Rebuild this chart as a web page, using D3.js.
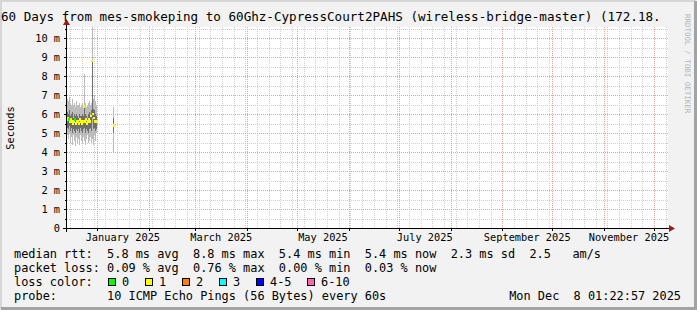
<!DOCTYPE html>
<html>
<head>
<meta charset="utf-8">
<script src="https://cdn.jsdelivr.net/npm/d3@7"></script>
<style>
  body { margin: 0; background: #f2f2f2; }
  text { font-family: "DejaVu Sans Mono", monospace; white-space: pre; }
</style>
</head>
<body>
<svg id="chart" width="697" height="310"></svg>
<script>
/**
 * smokeping style rtt graph, drawn with d3.
 */

// chart texts
var titleText = "60 Days from mes-smokeping to 60Ghz-CypressCourt2PAHS (wireless-bridge-master) (172.18.";
var yAxisTitle = "Seconds";
var watermark = "RRDTOOL / TOBI OETIKER";

// samples: one column every 14.4 hours from sampleStart
var sampleStart = "2024-12-14T00:00:00Z";
var sampleHours = 14.4;
var sampleIndex = [0, 1, 2, 3, 4, 5, 6, 7, 8, 9, 10, 11, 12, 13, 14, 15, 16, 17, 18, 19,
                   20, 21, 22, 23, 24, 25, 26, 27, 28, 29, 46];

// rtt values in ms
var rttMax    = [6.8, 6.7, 6.9, 6.6, 6.5, 6.8, 6.5, 6.6, 6.4, 6.7, 6.5, 6.5, 6.6, 6.4, 6.5, 6.6,
                 6.5, 8.1, 6.6, 6.4, 6.5, 6.6, 6.7, 6.5, 6.6, 10.6, 6.8, 7.0, 6.7, 6.5, 6.4];
var rttHigh   = [6.1, 6.0, 6.2, 5.9, 6.0, 6.1, 5.8, 6.0, 5.9, 6.0, 5.9, 5.8, 6.0, 5.9, 5.9, 6.0,
                 5.9, 6.5, 6.0, 5.9, 5.8, 6.0, 6.1, 5.9, 6.2, 8.8, 6.3, 6.2, 6.0, 5.9, 5.8];
var rttLow    = [5.3, 5.2, 5.4, 5.1, 5.3, 5.0, 5.2, 5.1, 5.0, 5.2, 5.1, 5.2, 5.0, 5.3, 5.1, 5.0,
                 5.2, 5.3, 5.0, 5.2, 5.1, 5.0, 5.2, 5.3, 5.1, 5.8, 5.2, 5.3, 5.1, 5.2, 5.0];
var rttMin    = [4.9, 4.7, 5.0, 4.5, 4.8, 4.4, 4.9, 4.6, 4.3, 4.8, 4.5, 4.7, 4.4, 4.9, 4.6, 4.5,
                 4.8, 4.6, 4.4, 4.7, 4.9, 4.5, 4.6, 4.8, 4.5, 4.7, 4.4, 4.9, 4.6, 5.0, 4.0];
var rttMedian = [5.7, 5.8, 5.7, 5.6, 5.7, 5.6, 5.5, 5.6, 5.7, 5.5, 5.6, 5.6, 5.5, 5.7, 5.6, 5.5,
                 5.6, 6.4, 5.6, 5.7, 5.5, 5.6, 5.7, 5.6, 5.9, 8.8, 6.0, 5.8, 5.6, 5.6, 5.4];
var lossCount = [1, 1, 0, 1, 1, 1, 1, 1, 0, 1, 1, 1, 1, 1, 1, 1,
                 1, 1, 1, 1, 1, 1, 1, 1, 1, 1, 1, 1, 1, 1, 1];

// y ticks (ms)
var yTicks = [0, 1, 2, 3, 4, 5, 6, 7, 8, 9, 10];
var yMinorTicks = [0.5, 1.5, 2.5, 3.5, 4.5, 5.5, 6.5, 7.5, 8.5, 9.5, 10.5];

// legend
var lossLabels = ["0", "1", "2", "3", "4-5", "6-10"];
var lossColors = ["#00ff00", "#ffff00", "#ff8000", "#00ffff", "#0000ff", "#ff66b2"];
var legendRows = [
  "median rtt:  5.8 ms avg  8.8 ms max  5.4 ms min  5.4 ms now  2.3 ms sd  2.5   am/s",
  "packet loss: 0.09 % avg  0.76 % max  0.00 % min  0.03 % now",
  "loss color:",
  "probe:       10 ICMP Echo Pings (56 Bytes) every 60s"
];
var stampText = "Mon Dec  8 01:22:57 2025";

var W = 697, H = 310;
var svg = d3.select('#chart');

// frame
svg.append('rect').attr('width', W).attr('height', H).attr('fill', '#f2f2f2');
svg.append('path').attr('d', 'M1,' + (H - 1) + 'V1H' + (W - 1))
   .attr('stroke', '#d6d6d6').attr('stroke-width', 2).attr('fill', 'none');
svg.append('path').attr('d', 'M1,' + (H - 1.5) + 'H' + (W - 1.5) + 'V1')
   .attr('stroke', '#a3a3a3').attr('stroke-width', 3).attr('fill', 'none');

// plot area (note: "top" is taken by window.top, so use plot* names)
var plotL = 66.5, plotR = 668, plotT = 27, plotB = 228;

// x scale anchored on month starts
var x = d3.scaleUtc()
    .domain([new Date("2025-01-01T00:00:00Z"), new Date("2025-12-01T00:00:00Z")])
    .range([97, 654]);
var tStart = x.invert(plotL), tEnd = x.invert(plotR);

var y = d3.scaleLinear().domain([0, 10.6]).range([plotB, plotT]);

svg.append('rect').attr('x', plotL).attr('y', plotT)
   .attr('width', plotR - plotL).attr('height', plotB - plotT).attr('fill', '#ffffff');

// grid
var grid = svg.append('g').attr('shape-rendering', 'crispEdges');
var weeks = d3.utcMonday.range(tStart, tEnd);
var months = d3.utcMonth.range(tStart, tEnd);

function vline(t, color) {
  var px = Math.round(x(t)) + 0.5;
  grid.append('line').attr('x1', px).attr('x2', px).attr('y1', plotT).attr('y2', plotB)
      .attr('stroke', color).attr('stroke-dasharray', '1,1');
}
function hline(v, color) {
  var py = Math.round(y(v)) + 0.5;
  grid.append('line').attr('x1', plotL).attr('x2', plotR).attr('y1', py).attr('y2', py)
      .attr('stroke', color).attr('stroke-dasharray', '1,1');
}
weeks.forEach(function(t) { vline(t, '#cfcfcf'); });
yMinorTicks.forEach(function(v) { hline(v, '#cfcfcf'); });
months.forEach(function(t) { vline(t, '#eea0a0'); });
yTicks.slice(1).forEach(function(v) { hline(v, '#eea0a0'); });

// samples
var samples = sampleIndex.map(function(k, i) {
  var t0 = new Date(new Date(sampleStart).getTime() + k * sampleHours * 3600e3);
  var t1 = new Date(t0.getTime() + sampleHours * 3600e3);
  return { t0: t0, t1: t1, max: rttMax[i], high: rttHigh[i], low: rttLow[i],
           min: rttMin[i], median: rttMedian[i], loss: lossCount[i] };
});

var smoke = svg.append('g').attr('shape-rendering', 'crispEdges');
// draw a smoke band between two value keys
function band(lo, hi, color) {
  smoke.selectAll(null).data(samples).enter().append('rect')
      .attr('x', function(d) { return x(d.t0); })
      .attr('width', function(d) { return Math.max(1, x(d.t1) - x(d.t0)); })
      .attr('y', function(d) { return y(d[hi]); })
      .attr('height', function(d) { return y(d[lo]) - y(d[hi]); })
      .attr('fill', color);
}
band('min', 'max', '#bcbcbc');
band('low', 'high', '#6e6e6e');

// median, colored by loss
function lossColor(n) {
  if (n <= 3) return lossColors[n];
  if (n <= 5) return lossColors[4];
  return lossColors[5];
}
smoke.selectAll(null).data(samples).enter().append('rect')
    .attr('x', function(d) { return x(d.t0) - 0.5; })
    .attr('width', function(d) { return Math.max(1, x(d.t1) - x(d.t0)) + 1; })
    .attr('y', function(d) { return y(d.median) - 1.5; })
    .attr('height', 2.5)
    .attr('fill', function(d) { return lossColor(d.loss); });

// axes
var axes = svg.append('g').attr('shape-rendering', 'crispEdges');
axes.append('line').attr('x1', plotL - 4).attr('x2', plotR + 2).attr('y1', plotB + 0.5).attr('y2', plotB + 0.5)
    .attr('stroke', '#000');
axes.append('line').attr('x1', plotL).attr('x2', plotL).attr('y1', plotB + 4).attr('y2', plotT - 2)
    .attr('stroke', '#000');
yTicks.forEach(function(v) {
  var py = Math.round(y(v)) + 0.5;
  axes.append('line').attr('x1', plotL - 3).attr('x2', plotL).attr('y1', py).attr('y2', py).attr('stroke', '#000');
});
yMinorTicks.forEach(function(v) {
  var py = Math.round(y(v)) + 0.5;
  axes.append('line').attr('x1', plotL - 2).attr('x2', plotL).attr('y1', py).attr('y2', py).attr('stroke', '#000');
});
months.forEach(function(t) {
  var px = Math.round(x(t)) + 0.5;
  axes.append('line').attr('x1', px).attr('x2', px).attr('y1', plotB).attr('y2', plotB + 3).attr('stroke', '#000');
});
// arrows
svg.append('path').attr('d', 'M' + (plotR + 1) + ',' + (plotB - 3) + 'L' + (plotR + 7) + ',' + (plotB + 0.5) +
                        'L' + (plotR + 1) + ',' + (plotB + 4) + 'Z').attr('fill', '#9b1c1c');
svg.append('path').attr('d', 'M' + (plotL - 3.5) + ',' + (plotT - 2) + 'L' + plotL + ',' + (plotT - 8) +
                        'L' + (plotL + 3.5) + ',' + (plotT - 2) + 'Z').attr('fill', '#9b1c1c');

// y labels
svg.selectAll(null).data(yTicks).enter().append('text')
    .attr('x', 60).attr('y', function(v) { return y(v) + 3.5; })
    .attr('text-anchor', 'end').attr('font-size', '10.3px').attr('fill', '#000')
    .text(function(v) { return v === 0 ? "0" : v + " m"; });

// x labels centered on every second month
var labelMonths = d3.utcMonth.every(2).range(new Date("2025-01-01T00:00:00Z"), tEnd);
svg.selectAll(null).data(labelMonths).enter().append('text')
    .attr('x', function(t) { return (x(t) + x(d3.utcMonth.offset(t, 1))) / 2; })
    .attr('y', 241).attr('text-anchor', 'middle').attr('font-size', '10.3px')
    .text(function(t) { return d3.utcFormat("%B %Y")(t); });

// y axis title
svg.append('text').attr('transform', 'translate(14,128) rotate(-90)')
    .attr('text-anchor', 'middle').attr('font-size', '10.3px').text(yAxisTitle);

// title
svg.append('text').attr('x', 1).attr('y', 21).attr('font-size', '12.6px').text(titleText);

// watermark
svg.append('text').attr('transform', 'translate(685,14) rotate(90)')
    .attr('font-size', '7.5px').attr('fill', '#b4b4b4').text(watermark);

// legend
var rowY = [258, 272, 286, 300];
legendRows.forEach(function(s, i) {
  svg.append('text').attr('x', 14).attr('y', rowY[i]).attr('font-size', '11.9px').text(s);
});
svg.append('text').attr('x', 681).attr('y', rowY[3]).attr('text-anchor', 'end')
    .attr('font-size', '11.9px').text(stampText);

var bx = 108;
lossLabels.forEach(function(lbl, i) {
  svg.append('rect').attr('x', bx + 0.5).attr('y', 278.5).attr('width', 7).attr('height', 7)
      .attr('fill', lossColors[i]).attr('stroke', '#000');
  svg.append('text').attr('x', bx + 14).attr('y', rowY[2]).attr('font-size', '11.9px').text(lbl);
  bx = bx + 15 + lbl.length * 7 + 15;
});
</script>
</body>
</html>
